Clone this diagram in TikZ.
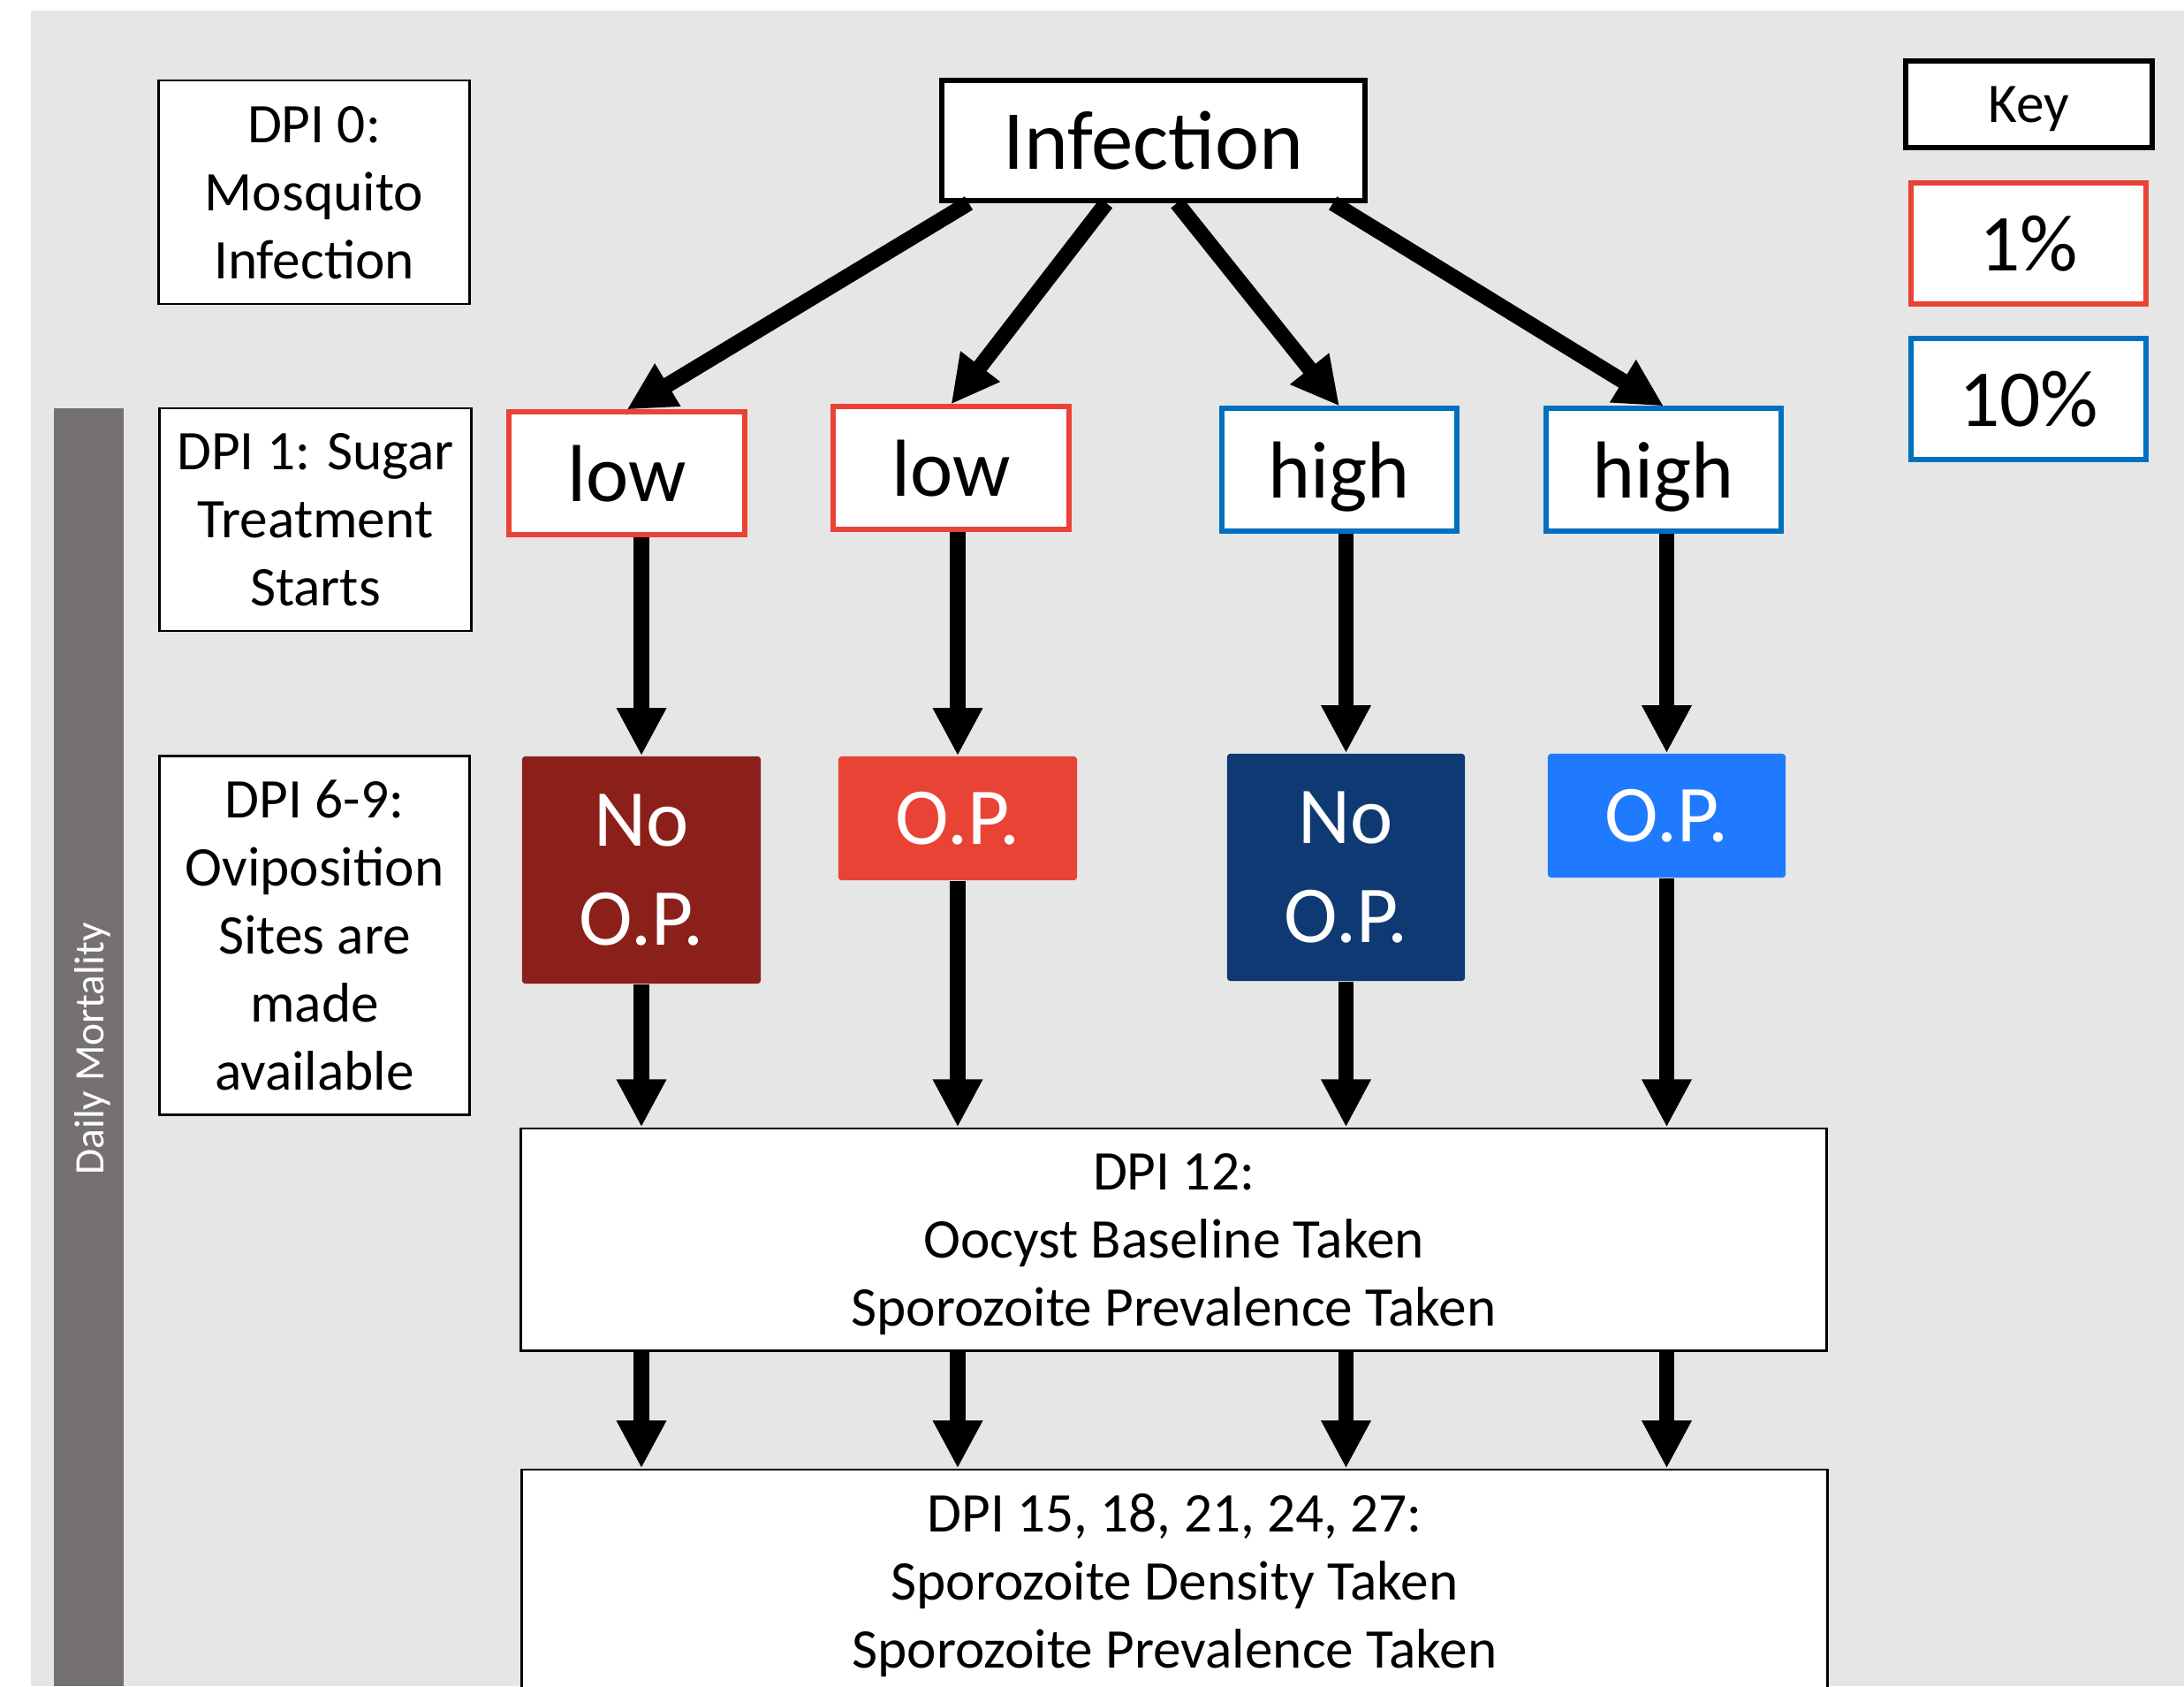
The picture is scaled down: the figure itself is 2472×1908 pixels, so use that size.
\documentclass[tikz,border=0pt]{standalone}
\usepackage{fontspec}
\setmainfont{Carlito}
\usetikzlibrary{arrows.meta,calc}

\definecolor{paneGrey}{HTML}{E7E6E6}
\definecolor{barGrey}{HTML}{767171}
\definecolor{lowRed}{HTML}{E94335}
\definecolor{highBlue}{HTML}{0070C0}
\definecolor{darkRed}{HTML}{8B201A}
\definecolor{darkBlue}{HTML}{0F3973}
\definecolor{brightBlue}{HTML}{1F7AFF}

\begin{document}
\begin{tikzpicture}[x=0.01cm,y=-0.01cm,
  stage/.style={draw,line width=0.8pt,fill=white,align=center,inner sep=0pt,text depth=0pt,
    font=\fontsize{18}{21.9}\selectfont},
  big/.style={align=center,inner sep=0pt,font=\fontsize{26}{32}\selectfont},
  dose/.style={big,draw=#1,line width=1.7pt,fill=white,text depth=0pt,
    minimum width=2.66cm,minimum height=1.38cm},
  outcome/.style={big,fill=#1,text=white,rounded corners=1pt,minimum width=2.7cm},
  flow/.style={line width=5pt,-{Triangle[length=15.4pt,width=15pt]}}]
  \useasboundingbox (0,0) rectangle (2472,1908);
  \clip (0,0) rectangle (2472,1908);
  \fill[paneGrey] (35,12) rectangle (2472,1908);
  \fill[barGrey] (61,462) rectangle (140,1908);
  \node[rotate=90,text=white,font=\fontsize{13.5}{16}\selectfont] (mortality) at (105,1187) {Daily Mortality};

  % time line on the left
  \node[stage,minimum width=3.51cm,minimum height=2.53cm] (dpi0) at (355.5,217.5) {DPI 0:\\Mosquito\\Infection};
  \node[stage,minimum width=3.52cm,minimum height=2.52cm] (dpi1) at (357,588) {DPI 1: Sugar\\Treatment\\Starts};
  \node[stage,minimum width=3.5cm,minimum height=4.05cm] (dpi69) at (356,1058.5) {DPI 6-9:\\Oviposition\\Sites are\\made\\available};

  % key
  \node[stage,line width=1.5pt,minimum width=2.79cm,minimum height=0.98cm] (key) at (2296.5,118) {Key};
  \node[dose=lowRed,minimum height=1.37cm] (pct1) at (2296,275.5) {1\%};
  \node[dose=highBlue,minimum height=1.37cm] (pct10) at (2296,451.5) {10\%};

  % groups
  \node[big,draw,line width=1.6pt,fill=white,minimum width=4.79cm,minimum height=1.36cm,
    font=\fontsize{27}{32}\selectfont] (infection) at (1305.5,159) {Infection};
  \node[dose=lowRed] (low1) at (709.5,535.5) {low};
  \node[dose=lowRed] (low2) at (1076.5,529.5) {low};
  \node[dose=highBlue] (high1) at (1516,531.5) {high};
  \node[dose=highBlue] (high2) at (1883,531.5) {high};

  \node[outcome=darkRed,minimum height=2.57cm] (nop1) at (726,984.5) {No\\O.P.};
  \node[outcome=lowRed,minimum height=1.4cm] (op1) at (1084,926) {O.P.};
  \node[outcome=darkBlue,minimum height=2.57cm,minimum width=2.69cm] (nop2) at (1523.5,981.5) {No\\O.P.};
  \node[outcome=brightBlue,minimum height=1.4cm,minimum width=2.69cm] (op2) at (1886.5,923) {O.P.};

  \node[stage,minimum width=14.77cm,minimum height=2.51cm] (dpi12) at (1328.5,1402.5)
    {DPI 12:\\Oocyst Baseline Taken\\Sporozoite Prevalence Taken};
  \node[stage,minimum width=14.77cm,minimum height=2.52cm] (dpi15) at (1329.5,1789)
    {DPI 15, 18, 21, 24, 27:\\Sporozoite Density Taken\\Sporozoite Prevalence Taken};

  % arrows
  \draw[flow] ($(infection.south west)!0.069!(infection.south east)$) -- (low1.north);
  \draw[flow] ($(infection.south west)!0.39!(infection.south east)$) -- (low2.north);
  \draw[flow] ($(infection.south west)!0.555!(infection.south east)$) -- (high1.north);
  \draw[flow] ($(infection.south west)!0.919!(infection.south east)$) -- (high2.north);

  \draw[flow] (nop1.north |- low1.south) -- (nop1.north);
  \draw[flow] (op1.north |- low2.south) -- (op1.north);
  \draw[flow] (nop2.north |- high1.south) -- (nop2.north);
  \draw[flow] (op2.north |- high2.south) -- (op2.north);

  \draw[flow] (nop1.south) -- (nop1.south |- dpi12.north);
  \draw[flow] (op1.south) -- (op1.south |- dpi12.north);
  \draw[flow] (nop2.south) -- (nop2.south |- dpi12.north);
  \draw[flow] (op2.south) -- (op2.south |- dpi12.north);

  \draw[flow] (nop1.south |- dpi12.south) -- (nop1.south |- dpi15.north);
  \draw[flow] (op1.south |- dpi12.south) -- (op1.south |- dpi15.north);
  \draw[flow] (nop2.south |- dpi12.south) -- (nop2.south |- dpi15.north);
  \draw[flow] (op2.south |- dpi12.south) -- (op2.south |- dpi15.north);
\end{tikzpicture}
\end{document}
